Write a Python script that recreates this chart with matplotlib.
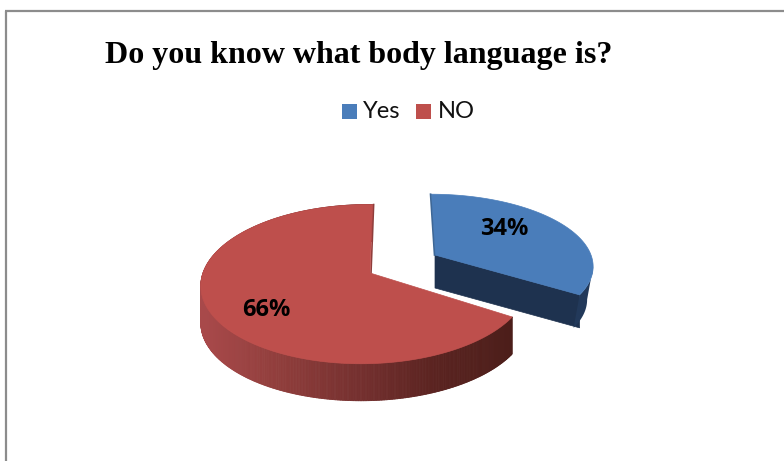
import numpy as np
import matplotlib
matplotlib.use("Agg")
import matplotlib.pyplot as plt
from matplotlib.patches import Polygon, Rectangle
from matplotlib.collections import PolyCollection
from matplotlib.colors import LinearSegmentedColormap

# Survey answers
categories = ["Yes", "NO"]
shares = [34, 66]
labels = ["34%", "66%"]
title_text = "Do you know what body language is?"

BLUE, RED = "#4a7dba", "#be4f4c"
BLUE_SIDE = "#1e324f"
RED_SIDE = LinearSegmentedColormap.from_list(
    "red_side", ["#a8494a", "#8f3d3b", "#75302f", "#5a2320", "#4c1e1a"])

W, H = 784, 461
fig = plt.figure(figsize=(W / 100, H / 100), dpi=100)
ax = fig.add_axes([0, 0, 1, 1])
ax.set_xlim(0, W)
ax.set_ylim(H, 0)
ax.axis("off")


def rim(theta, apex, p):
    """Project clockwise-from-north angles onto the tilted disc (pixel space)."""
    u, v = np.sin(theta), -np.cos(theta)
    d = 1 - p["k"] * v + p["n"] * u
    return apex[0] + (p["A"] * u + p["q"] * v) / d, apex[1] + p["B"] * v / d


def wedge_top(start, stop, apex, p):
    t = np.linspace(start, stop, 240)
    x, y = rim(t, apex, p)
    return np.column_stack([np.r_[apex[0], x], np.r_[apex[1], y]])


angles = np.cumsum([0] + shares) / sum(shares) * 2 * np.pi

# Exploded "Yes" slice: cut face and rim first, then the top
yes_apex = (435, 255)
yes_p = dict(A=156, B=69, k=0.135, n=0.0, q=4.5)
yes_h = 33
top = wedge_top(angles[0], angles[1], yes_apex, yes_p)
arc = top[1:]
ax.add_patch(Polygon([yes_apex, arc[-1], arc[-1] + [0, yes_h], np.add(yes_apex, (0, yes_h))],
                     fc=BLUE_SIDE, ec=BLUE_SIDE, lw=0.5, zorder=2))
outer = arc[int(np.argmax(arc[:, 0])):]
ax.add_patch(Polygon(np.vstack([outer, (outer + [-6, yes_h])[::-1]]),
                     fc="#22395a", ec="none", zorder=2))
ax.add_patch(Polygon(top, fc=BLUE, ec=BLUE, lw=0.5, zorder=3))
ax.plot([arc[0, 0] - 0.5, yes_apex[0] - 0.5], [arc[0, 1], yes_apex[1]],
        color="#3d6797", lw=1.2, zorder=4)

# "NO" slice: shaded rim built from thin strips, then the top
no_apex = (370, 273)
no_p = dict(A=162, B=78, k=0.14, n=0.03, q=-3)
no_h = 37
t = np.linspace(angles[1], angles[2], 480)
x, y = rim(t, no_apex, no_p)
strips = [[(x[i], y[i]), (x[i + 1], y[i + 1]), (x[i + 1], y[i + 1] + no_h), (x[i], y[i] + no_h)]
          for i in range(len(t) - 1)]
shade = RED_SIDE(np.clip((x[:-1] - 205) / (513 - 205), 0, 1))
ax.add_collection(PolyCollection(strips, facecolors=shade, edgecolors=shade, linewidths=0.6, zorder=1))
ax.add_patch(Polygon(wedge_top(angles[1], angles[2], no_apex, no_p), fc=RED, ec=RED, lw=0.5, zorder=3))
ax.plot([x[-1] + 1, no_apex[0] + 1], [y[-1], no_apex[1]], color="#8f3d3b", lw=1.2, zorder=2.5)

# Slice labels
for txt, pos in zip(labels, [(504, 229), (266, 310)]):
    ax.text(*pos, txt, fontsize=17, fontweight="bold", family="Open Sans", stretch="condensed",
            ha="center", va="center", color="black", zorder=5)

# Title and legend
ax.text(358.5, 56, title_text, family="Liberation Serif", fontweight="bold",
        fontsize=23, ha="center", va="center", color="black")
legend_layout = [(342, 363, BLUE), (416, 438, RED)]
for name, (bx, tx, col) in zip(categories, legend_layout):
    ax.add_patch(Rectangle((bx, 104), 15, 15, fc=col, ec="none"))
    ax.text(tx, 111, name, family="Lato", fontsize=17,
            ha="left", va="center", color="#111111")

# Frame around the chart, running off the right and bottom
ax.plot([6, 6], [H, 11], color="#8c8c8c", lw=1.6, solid_capstyle="butt", zorder=6)
ax.plot([5.2, W], [11, 11], color="#8c8c8c", lw=1.6, solid_capstyle="butt", zorder=6)

fig.savefig("out.png", dpi=100, facecolor="white")
